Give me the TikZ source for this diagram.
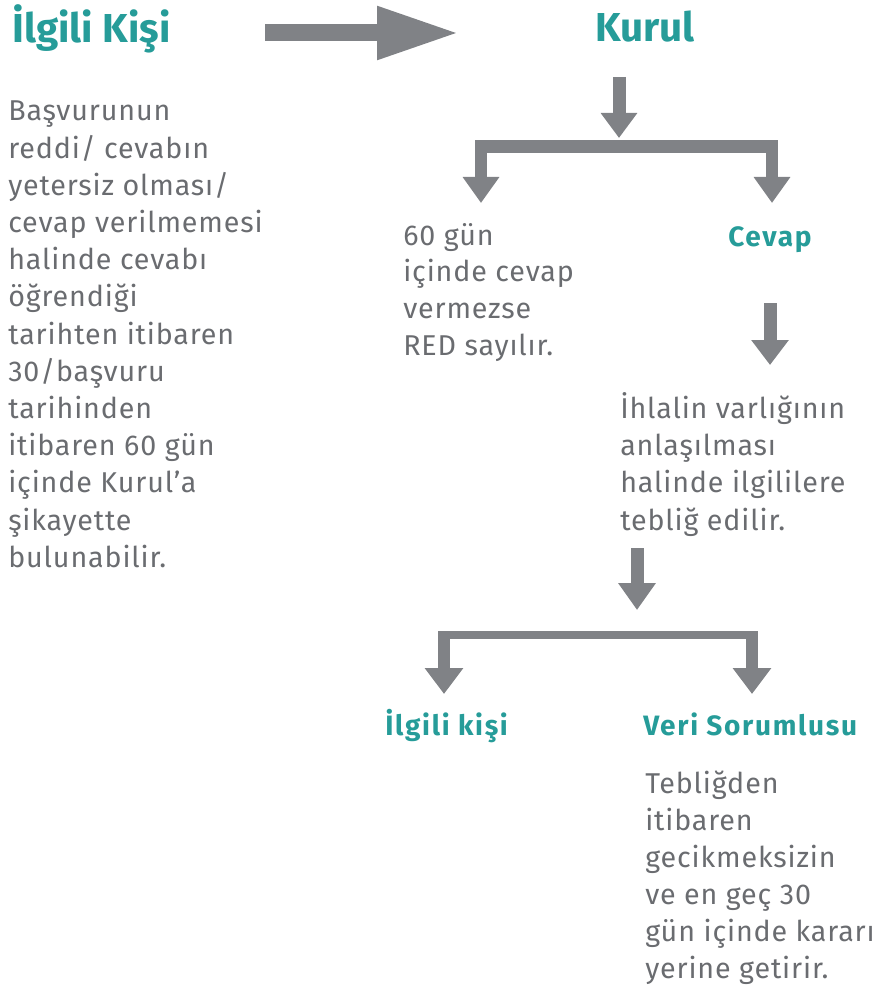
\documentclass[tikz,border=0pt]{standalone}
\usepackage{fontspec}
\setmainfont{Fira Sans}
\usetikzlibrary{arrows.meta}
\definecolor{tealc}{RGB}{38,156,153}
\definecolor{txtgrey}{RGB}{106,108,112}
\definecolor{arrgrey}{RGB}{128,130,134}
\newcommand\blk[2]{\parbox[t]{10cm}{\fontsize{21.5pt}{#1}\selectfont\addfontfeature{LetterSpace=3}\raggedright #2}}
\tikzset{
  x=0.75pt, y=-0.75pt,
  headtxt/.style={font=\bfseries\fontsize{30.3pt}{36pt}\selectfont, text=tealc, anchor=base west, inner sep=0},
  subtxt/.style={font=\bfseries\fontsize{21pt}{26pt}\selectfont\addfontfeature{LetterSpace=6}, text=tealc, anchor=base west, inner sep=0},
  bodytxt/.style={text=txtgrey, anchor=base west, inner sep=0},
  fatarrow/.style={draw=arrgrey, line width=9.75pt, line cap=butt, line join=miter,
    -{Triangle[length=19.5pt,width=27pt]}},
}
\begin{document}
\begin{tikzpicture}
\useasboundingbox (0,0) rectangle (875,991);
% texts
\node[headtxt] (ilgili) at (12,43) {İlgili Kişi};
\node[headtxt] (kurul) at (595,42) {Kurul};
\node[bodytxt] (basvuru) at (8,121) {\blk{27.9pt}{Başvurunun\\reddi/ cevabın\\yetersiz olması/\\cevap verilmemesi\\halinde cevabı\\öğrendiği\\tarihten itibaren\\30/başvuru\\tarihinden\\itibaren 60 gün\\içinde Kurul’a\\şikayette\\bulunabilir.}};
\node[bodytxt] (gun60) at (403,245) {\blk{27.5pt}{60 gün\\içinde cevap\\vermezse\\RED sayılır.}};
\node[subtxt] (cevap) at (728,247) {Cevap};
\node[bodytxt] (ihlal) at (620,418) {\blk{28pt}{İhlalin varlığının\\anlaşılması\\halinde ilgililere\\tebliğ edilir.}};
\node[subtxt] (ilgilik) at (385,735) {İlgili kişi};
\node[subtxt] (veri) at (643,735) {Veri Sorumlusu};
\node[bodytxt] (teblig) at (645,793) {\blk{27.75pt}{Tebliğden\\itibaren\\gecikmeksizin\\ve en geç 30\\gün içinde kararı\\yerine getirir.}};
% arrow end points
\coordinate (a1s) at (265,33);
\coordinate (a1e) at (460,33);
\coordinate (a2s) at (619,77);
\coordinate (a2e) at (619,138);
\coordinate (b1l) at (481,203);
\coordinate (b1lc) at (481,146.5);
\coordinate (b1rc) at (772,146.5);
\coordinate (b1r) at (772,203);
\coordinate (a3s) at (770,303);
\coordinate (a3e) at (770,365);
\coordinate (a4s) at (637,548);
\coordinate (a4e) at (637,610);
\coordinate (b2a) at (438,634.5);
\coordinate (b2b) at (758,634.5);
\coordinate (b2ls) at (444,631);
\coordinate (b2le) at (444,694);
\coordinate (b2rs) at (752,631);
\coordinate (b2re) at (752,694);
% arrows
\draw[fatarrow, line width=12.75pt, -{Triangle[length=62.25pt,width=36.75pt]}] (a1s) -- (a1e);
\draw[fatarrow, -{Triangle[length=18.75pt,width=26.25pt]}] (a2s) -- (a2e);
\draw[fatarrow, line width=9.4pt, {Triangle[length=19.5pt,width=26.25pt]}-{Triangle[length=19.5pt,width=26.25pt]}] (b1l) -- (b1lc) -- (b1rc) -- (b1r);
\draw[fatarrow, -{Triangle[length=18.75pt,width=27pt]}] (a3s) -- (a3e);
\draw[fatarrow, -{Triangle[length=20.25pt,width=27pt]}] (a4s) -- (a4e);
\draw[draw=arrgrey, line width=6pt] (b2a) -- (b2b);
\draw[fatarrow, line width=9pt, -{Triangle[length=19.5pt,width=27.75pt]}] (b2ls) -- (b2le);
\draw[fatarrow, line width=9pt, -{Triangle[length=19.5pt,width=27.75pt]}] (b2rs) -- (b2re);
\end{tikzpicture}
\end{document}
